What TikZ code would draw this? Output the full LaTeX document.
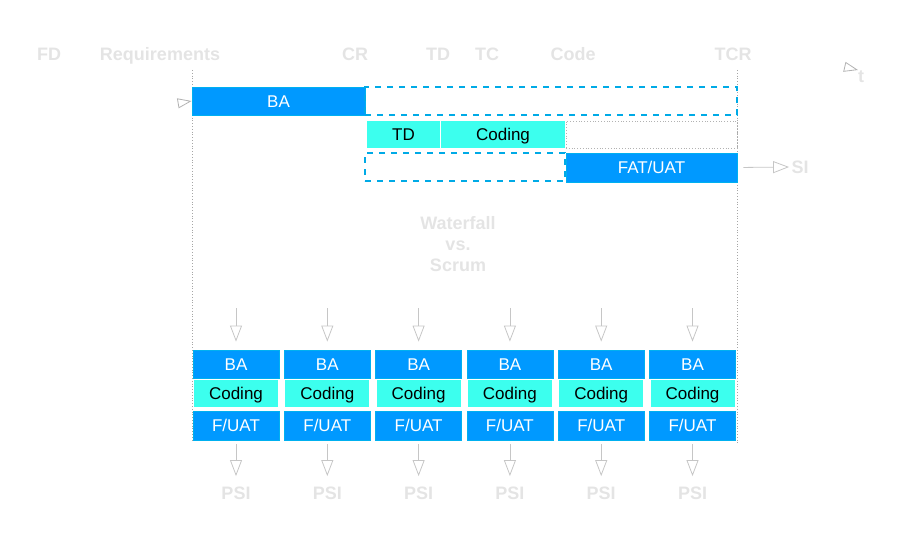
\documentclass[tikz,border=0pt]{standalone}
\usepackage{fontspec}
\setmainfont{Liberation Sans}
\usepackage{tikz}
\usetikzlibrary{arrows.meta}

\definecolor{baBlue}{RGB}{0,153,255}
\definecolor{baEdge}{RGB}{0,176,240}
\definecolor{codeCyan}{RGB}{60,255,238}
\definecolor{slotEdge}{RGB}{0,170,230}
\definecolor{lblGray}{RGB}{228,228,228}

\tikzset{
  babox/.style={rectangle, fill=baBlue, draw=baEdge, text=white, inner sep=0pt, text height=7pt, text depth=1pt, font=\fontsize{8.5}{10}\selectfont},
  codebox/.style={rectangle, fill=codeCyan, text=black, inner sep=0pt, text height=7pt, text depth=1pt, font=\fontsize{8.5}{10}\selectfont},
  slot/.style={rectangle, draw=slotEdge, dashed, thick, inner sep=0pt},
  gapbox/.style={rectangle, draw=gray!60, densely dotted, inner sep=0pt},
  lbl/.style={text=lblGray, font=\fontsize{9}{10.3}\selectfont\bfseries, align=center, inner sep=1pt},
  toplbl/.style={lbl, text height=7.5pt, text depth=1pt},
  arr/.style={draw=gray!45, -{Triangle[open, length=8pt, width=6pt]}},
  faintarr/.style={draw=white, -{Triangle[open, length=7pt, width=5pt, color=gray!60]}},
  bound/.style={draw=gray!70, densely dotted}
}

\begin{document}
\begin{tikzpicture}[x=0.5pt, y=-0.5pt]
\useasboundingbox (0,0) rectangle (908,551);
% phase labels
\node[toplbl](fd) at (49,54) {FD};
\node[toplbl](req) at (160,54) {Requirements};
\node[toplbl](cr) at (355,54) {CR};
\node[toplbl](td) at (438,54) {TD};
\node[toplbl](tc) at (487,54) {TC};
\node[toplbl](code) at (573,54) {Code};
\node[toplbl](tcr) at (733,54) {TCR};
\node[toplbl](t) at (861,76) {t};
\coordinate (tfrom) at (815,60);
\coordinate (ttip) at (858,70);
\draw[faintarr] (tfrom) -- (ttip);
% bounds
\coordinate (bl1) at (192,70);
\coordinate (bl2) at (192,440);
\coordinate (br1) at (737,70);
\coordinate (br2) at (737,445);
\draw[bound] (bl1) -- (bl2);
\draw[bound] (br1) -- (br2);
% waterfall
\node[babox, minimum width=86.5pt, minimum height=14pt](wba) at (278.5,101) {BA};
\node[slot, minimum width=186pt, minimum height=14pt](s1) at (551,101) {};
\node[codebox, minimum width=36.5pt, minimum height=13.5pt](wtd) at (403.5,134.5) {TD};
\node[codebox, minimum width=62pt, minimum height=13.5pt](wco) at (503,134.5) {Coding};
\node[gapbox, minimum width=85.5pt, minimum height=13.5pt](g1) at (651.5,134.5) {};
\node[slot, minimum width=100pt, minimum height=14pt](s2) at (465,167) {};
\node[babox, minimum width=85.5pt, minimum height=14.5pt](wfat) at (651.5,167.5) {FAT/UAT};
\coordinate (rin) at (150,108);
\draw[faintarr] (rin) -- (wba.west);
\node[toplbl](si) at (800,167) {SI};
\draw[arr, shorten <=3pt] (wfat.east) -- (si.west);
\node[lbl](title) at (458,244) {Waterfall\\vs.\\Scrum};
% scrum sprints
\foreach \i in {0,...,5} {
  \pgfmathsetmacro\cx{236+91.3*\i}
  \node[babox, minimum width=43pt, minimum height=14pt](ba\i) at (\cx,364) {BA};
  \node[codebox, minimum width=42pt, minimum height=13.5pt](co\i) at (\cx,393.5) {Coding};
  \node[babox, minimum width=43pt, minimum height=14.5pt](fu\i) at (\cx,425.5) {F/UAT};
  \coordinate (in\i) at (\cx,308);
  \draw[arr, shorten >=4pt] (in\i) -- (ba\i);
  \node[toplbl](psi\i) at (\cx,493) {PSI};
  \draw[arr, shorten <=2pt, shorten >=3pt] (fu\i) -- (psi\i);
}
\end{tikzpicture}
\end{document}
